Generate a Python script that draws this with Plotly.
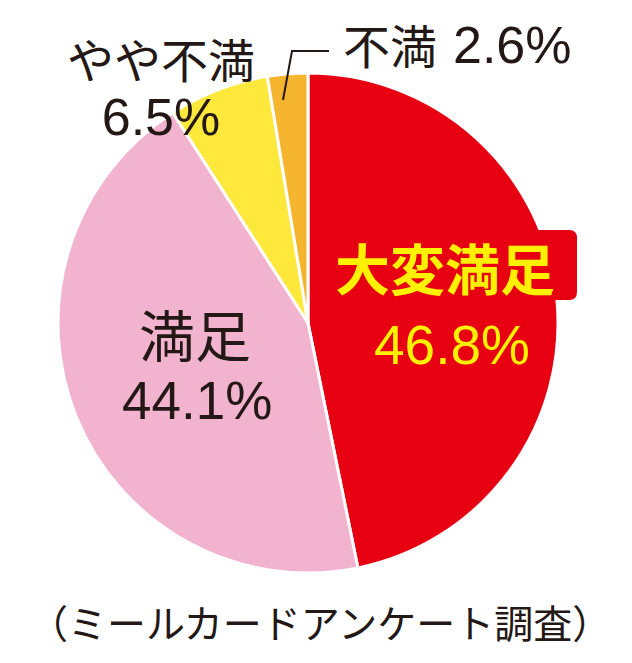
import plotly.graph_objects as go

labels = ["大変満足", "満足", "やや不満", "不満"]
values = [46.8, 44.1, 6.5, 2.6]
colors = ["#E60012", "#F2B3CF", "#FFE83C", "#F6B52E"]
caption = "（ミールカードアンケート調査）"

W, H = 632, 663
def px(x): return x / W
def py(y): return 1 - y / H

CJK = "Noto Sans CJK JP"
LAT = "Liberation Sans, Noto Sans CJK JP"
DARK = "#231815"
YEL = "#FFF100"

fig = go.Figure(go.Pie(
    labels=labels, values=values, sort=False, direction="clockwise", rotation=0,
    marker=dict(colors=colors, line=dict(color="white", width=3)),
    textinfo="none", hoverinfo="label+percent", showlegend=False,
    domain=dict(x=[px(58), px(558)], y=[py(573), py(73)]),
))

def a(x, y, text, size, color, family, xanchor="center"):
    return dict(x=px(x), y=py(y), xref="paper", yref="paper", showarrow=False,
                text=text, font=dict(family=family, size=size, color=color),
                xanchor=xanchor, yanchor="middle")

def pct(v): return "%.1f%%" % v

two_line = ('<span style="font-size:47px">%s</span><br>'
            '<span style="font-family:Liberation Sans;font-size:52px">%s</span>'
            % (labels[2], pct(values[2])))

ann = [
    a(445, 266, "<b>%s</b>" % labels[0], 55, YEL, CJK),
    a(452, 345, pct(values[0]), 55, YEL, LAT),
    a(195, 332, labels[1], 56, DARK, CJK),
    a(197, 400, pct(values[1]), 53, DARK, LAT),
    a(161, 84, two_line, 44, DARK, CJK),
    a(341, 44, labels[3], 47, DARK, CJK, "left"),
    a(451, 45, pct(values[3]), 52, DARK, LAT, "left"),
    a(320, 621, caption, 39, DARK, CJK),
]

# rounded red label box
x0, x1, y0, y1, r = 335, 577, 230, 300, 8
box = ("M {a} {b} L {c} {b} Q {d} {b} {d} {e} L {d} {f} Q {d} {g} {c} {g} "
       "L {a} {g} Q {h} {g} {h} {f} L {h} {e} Q {h} {b} {a} {b} Z").format(
    a=px(x0 + r), b=py(y0), c=px(x1 - r), d=px(x1), e=py(y0 + r),
    f=py(y1 - r), g=py(y1), h=px(x0))

shapes = [
    dict(type="path", xref="paper", yref="paper", layer="above",
         path=box, fillcolor="#E60012", line=dict(width=0)),
    dict(type="path", xref="paper", yref="paper",
         path="M %f %f L %f %f L %f %f" % (px(283), py(100), px(292), py(51), px(329), py(51)),
         line=dict(color=DARK, width=2)),
]

fig.update_layout(width=W, height=H, margin=dict(l=0, r=0, t=0, b=0),
                  paper_bgcolor="white", plot_bgcolor="white",
                  annotations=ann, shapes=shapes)
fig.write_html("out.html")
